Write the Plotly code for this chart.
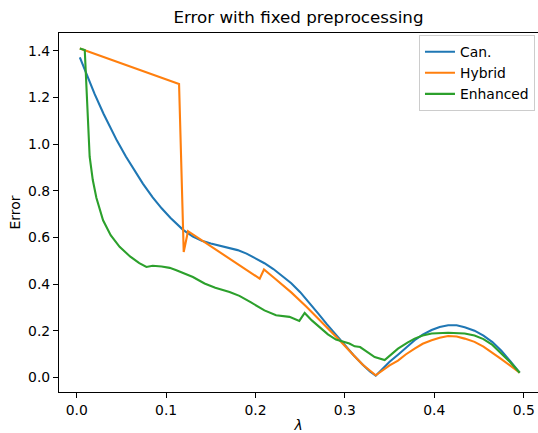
import plotly.graph_objects as go

# ---- data ----
can_x = [0.0035, 0.01, 0.02, 0.03, 0.037, 0.045, 0.055, 0.065, 0.074, 0.085, 0.095, 0.105, 0.113,
         0.119, 0.13, 0.14, 0.15, 0.16, 0.17, 0.18, 0.19, 0.20, 0.21, 0.22, 0.23, 0.24, 0.25,
         0.26, 0.27, 0.28, 0.29, 0.30, 0.31, 0.32, 0.328, 0.3345, 0.34, 0.345, 0.35, 0.3594,
         0.368, 0.378, 0.387, 0.397, 0.406, 0.4155, 0.425, 0.434, 0.445, 0.455, 0.465, 0.475,
         0.485, 0.4955]
can_y = [1.372, 1.310, 1.215, 1.130, 1.074, 1.015, 0.947, 0.885, 0.831, 0.772, 0.725, 0.684, 0.655,
         0.633, 0.604, 0.586, 0.574, 0.565, 0.557, 0.546, 0.531, 0.512, 0.490, 0.465, 0.436, 0.404, 0.366,
         0.322, 0.275, 0.228, 0.183, 0.138, 0.095, 0.055, 0.026, 0.008, 0.030, 0.050, 0.068, 0.098,
         0.128, 0.160, 0.184, 0.204, 0.217, 0.224, 0.224, 0.216, 0.201, 0.180, 0.152, 0.115,
         0.070, 0.021]

hyb_x = [0.0035, 0.1145, 0.1197, 0.1245, 0.2047, 0.2095, 0.22, 0.24, 0.257, 0.275, 0.294, 0.31,
         0.32, 0.3345, 0.34, 0.345, 0.35, 0.3594, 0.368, 0.378, 0.387, 0.397, 0.406, 0.4155,
         0.425, 0.434, 0.445, 0.455, 0.465, 0.475, 0.485, 0.4955]
hyb_y = [1.410, 1.258, 0.538, 0.627, 0.424, 0.463, 0.430, 0.365, 0.303, 0.235, 0.160, 0.095,
         0.055, 0.010, 0.026, 0.040, 0.052, 0.073, 0.099, 0.124, 0.145, 0.160, 0.171, 0.178,
         0.176, 0.167, 0.153, 0.133, 0.107, 0.079, 0.051, 0.021]

enh_x = [0.0035, 0.009, 0.0145, 0.018, 0.022, 0.0295, 0.038, 0.048, 0.06, 0.07, 0.078, 0.085,
         0.095, 0.104, 0.1115, 0.12, 0.13, 0.143, 0.155, 0.171, 0.182, 0.195, 0.21, 0.223,
         0.238, 0.249, 0.255, 0.263, 0.272, 0.281, 0.290, 0.300, 0.305, 0.311, 0.317, 0.322,
         0.3333, 0.3445, 0.3594, 0.37, 0.378, 0.387, 0.397, 0.4155, 0.428, 0.434, 0.445,
         0.455, 0.465, 0.475, 0.485, 0.4955]
enh_y = [1.410, 1.403, 0.946, 0.846, 0.77, 0.674, 0.610, 0.560, 0.518, 0.490, 0.474, 0.479,
         0.476, 0.470, 0.460, 0.447, 0.431, 0.403, 0.385, 0.367, 0.350, 0.322, 0.288, 0.267,
         0.260, 0.243, 0.277, 0.245, 0.213, 0.185, 0.163, 0.150, 0.146, 0.134, 0.131, 0.118,
         0.088, 0.075, 0.124, 0.150, 0.167, 0.180, 0.189, 0.192, 0.191, 0.189, 0.180,
         0.165, 0.140, 0.105, 0.066, 0.021]

series_names = ["Can.", "Hybrid", "Enhanced"]
series_colors = ["#1f77b4", "#ff7f0e", "#2ca02c"]

x_ticks = [0.0, 0.1, 0.2, 0.3, 0.4, 0.5]
y_ticks = [0.0, 0.2, 0.4, 0.6, 0.8, 1.0, 1.2, 1.4]

FONT = "DejaVu Sans"

fig = go.Figure()
for name, xs, ys, col in zip(series_names, [can_x, hyb_x, enh_x], [can_y, hyb_y, enh_y], series_colors):
    fig.add_trace(go.Scatter(x=xs, y=ys, mode="lines", name=name,
                             line=dict(color=col, width=2.1)))

fig.update_layout(
    width=538, height=433,
    margin=dict(l=59, r=0, t=33, b=41),
    paper_bgcolor="white", plot_bgcolor="white",
    font=dict(family=FONT, size=13.9, color="#000000"),
    title=dict(text="Error with fixed preprocessing", font=dict(family=FONT, size=16.7, color="#000000"),
               x=0.5, xref="paper", xanchor="center", y=1 - 17.5 / 433, yref="container", yanchor="middle"),
    showlegend=True,
    legend=dict(x=0.9937, xanchor="right", y=0.994, yanchor="top", xref="paper", yref="paper",
                bgcolor="rgba(255,255,255,0.8)", bordercolor="#cccccc", borderwidth=1,
                font=dict(family=FONT, size=13.9, color="#000000"), tracegroupgap=0),
)
fig.update_xaxes(
    range=[-0.0198, 0.516], tickvals=x_ticks, ticktext=[f"{v:.1f}" for v in x_ticks],
    showgrid=False, zeroline=False, showline=True, linecolor="black", linewidth=1.1, mirror=True,
    ticks="outside", ticklen=5, tickwidth=1.1, tickcolor="black", automargin=False,
    title=dict(text="<i>λ</i>", font=dict(family=FONT, size=13.9), standoff=4),
)
fig.update_yaxes(
    range=[-0.0617, 1.476], tickvals=y_ticks, ticktext=[f"{v:.1f}" for v in y_ticks],
    showgrid=False, zeroline=False, showline=True, linecolor="black", linewidth=1.1, mirror=False,
    ticks="outside", ticklen=5, tickwidth=1.1, tickcolor="black", automargin=False,
    title=dict(text="Error", font=dict(family=FONT, size=13.9), standoff=4),
)

fig.write_html("out.html", config={"displayModeBar": False},
               post_script="document.body.style.margin='0';document.body.style.overflow='hidden';")
